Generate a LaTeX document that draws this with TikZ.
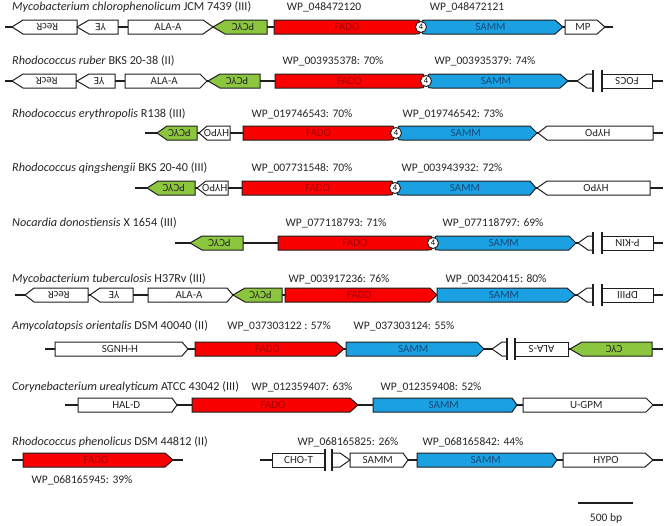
\documentclass[tikz,border=0pt]{standalone}
\usepackage{fontspec}
\setmainfont{Carlito}
\definecolor{fadoF}{RGB}{250,0,0}
\definecolor{fadoT}{RGB}{165,0,0}
\definecolor{sammF}{RGB}{27,161,226}
\definecolor{sammT}{RGB}{22,72,122}
\definecolor{pcycF}{RGB}{140,198,63}
\definecolor{edge}{RGB}{30,30,30}
\newcounter{gn}
\tikzset{
  gene/.style={draw=edge,line width=1pt,fill=white,line join=miter},
  fado/.style={fill=fadoF},
  samm/.style={fill=sammF},
  pcyc/.style={fill=pcycF},
  glab/.style={font=\fontsize{11}{12}\selectfont,inner sep=0pt,text=black!85},
  fadot/.style={text=fadoT},
  sammt/.style={text=sammT},
  bb/.style={draw=edge,line width=1.2pt},
  brk/.style={draw=edge,line width=1.2pt},
  circ/.style={circle,draw=edge,line width=0.9pt,fill=white,inner sep=0pt,minimum size=11pt,font=\fontsize{8.5}{9}\selectfont},
  wp/.style={anchor=base,inner sep=0pt,font=\fontsize{11.5}{13}\selectfont,text=black!85},
  ttl/.style={anchor=base west,inner sep=0pt,font=\fontsize{12.2}{14}\selectfont,text=black!85}
}
% forward gene: x1, body end, tip, y, fill, label, text style
\newcommand\gF[7]{\stepcounter{gn}%
  \filldraw[gene,#5] (#1,#4-7) -- (#2,#4-7) -- (#3,#4) -- (#2,#4+7) -- (#1,#4+7) -- cycle;
  \node[glab,#7] (g\arabic{gn}) at ({(2*#1+#2+#3)/4},#4) {#6};}
% reverse gene: tip, body start, x2, y, fill, label, text style
\newcommand\gR[7]{\stepcounter{gn}%
  \filldraw[gene,#5] (#1,#4) -- (#2,#4-7) -- (#3,#4-7) -- (#3,#4+7) -- (#2,#4+7) -- cycle;
  \node[glab,rotate=180,#7] (g\arabic{gn}) at ({(2*#3+#2+#1)/4},#4) {#6};}
% FADO with rounded right end: x1, x2, y
\newcommand\gFado[3]{\stepcounter{gn}%
  \filldraw[gene,fado] (#1,#3-7) -- (#2-4,#3-7) .. controls (#2,#3-7) .. (#2,#3-3) -- (#2,#3+3) .. controls (#2,#3+7) .. (#2-4,#3+7) -- (#1,#3+7) -- cycle;
  \node[glab,fadot] (g\arabic{gn}) at ({(#1+#2)/2},#3) {FADO};}
% SAMM with rounded left end: x1, body end, tip, y
\newcommand\gSamm[4]{\stepcounter{gn}%
  \filldraw[gene,samm] (#1+4,#4-7) -- (#2,#4-7) -- (#3,#4) -- (#2,#4+7) -- (#1+4,#4+7) .. controls (#1,#4+7) .. (#1,#4+3) -- (#1,#4-3) .. controls (#1,#4-7) .. (#1+4,#4-7) -- cycle;
  \node[glab,sammt] (g\arabic{gn}) at ({(2*#1+#2+#3)/4},#4) {SAMM};}
% broken reverse gene: tip, break1, break2, x2, y, label
\newcommand\gBR[6]{\stepcounter{gn}%
  \fill[white] (#2,#5-7) rectangle (#3,#5+7);
  \filldraw[gene] (#1,#5) -- (#1+10,#5-7) -- (#2,#5-7) -- (#2,#5+7) -- (#1+10,#5+7) -- cycle;
  \filldraw[gene] (#3,#5-7) -- (#4,#5-7) -- (#4,#5+7) -- (#3,#5+7) -- cycle;
  \draw[brk] (#2,#5-11) -- (#2,#5+11);
  \draw[brk] (#3,#5-11) -- (#3,#5+11);
  \node[glab,rotate=180] (g\arabic{gn}) at ({(#3+#4)/2},#5) {#6};}
% broken forward gene: x1, break1, break2, body end, tip, y, label
\newcommand\gBF[7]{\stepcounter{gn}%
  \fill[white] (#2,#6-7) rectangle (#3,#6+7);
  \filldraw[gene] (#1,#6-7) -- (#2,#6-7) -- (#2,#6+7) -- (#1,#6+7) -- cycle;
  \filldraw[gene] (#3,#6-7) -- (#4,#6-7) -- (#5,#6) -- (#4,#6+7) -- (#3,#6+7) -- cycle;
  \draw[brk] (#2,#6-11) -- (#2,#6+11);
  \draw[brk] (#3,#6-11) -- (#3,#6+11);
  \node[glab] (g\arabic{gn}) at ({(#1+#2)/2},#6) {#7};}
\begin{document}
\begin{tikzpicture}[x=1pt,y=-1pt]
\useasboundingbox (0,0) rectangle (666,525);
\fill[white] (0,0) rectangle (666,525);

% ---------- Row 1 ----------
\node[ttl] (t1) at (12,10) {\textit{Mycobacterium chlorophenolicum} JCM 7439 (III)};
\node[wp] (w1a) at (324,10) {WP\_048472120};
\node[wp] (w1b) at (467,10) {WP\_048472121};
\coordinate (a1) at (5,27); \coordinate (b1) at (613,27);
\draw[bb] (a1) -- (b1);
\gR{12}{23}{77}{27}{}{RecR}{}
\gR{77}{89}{118}{27}{}{YE}{}
\gF{128}{203}{213}{27}{}{ALA-A}{}
\gR{213}{225}{267}{27}{pcyc}{PCYC}{}
\gFado{274}{420}{27}
\gSamm{422}{555}{563}{27}
\gF{565}{597}{605}{27}{}{MP}{}
\node[circ] (c1) at (421,27) {4};

% ---------- Row 2 ----------
\node[ttl] (t2) at (12,64) {\textit{Rhodococcus ruber} BKS 20-38 (II)};
\node[wp] (w2a) at (333,64) {WP\_003935378: 70\%};
\node[wp] (w2b) at (485,64) {WP\_003935379: 74\%};
\coordinate (a2) at (5,81); \coordinate (b2) at (663,81);
\draw[bb] (a2) -- (b2);
\gR{12}{23}{76}{81}{}{RecR}{}
\gR{77}{89}{115}{81}{}{YE}{}
\gF{125}{200}{207}{81}{}{ALA-A}{}
\gR{208}{220}{260}{81}{pcyc}{PCYC}{}
\gFado{275}{424}{81}
\gSamm{428}{560}{568}{81}
\gBR{577}{593}{602}{652}{81}{FOCS}
\node[circ] (c2) at (426,81) {4};

% ---------- Row 3 ----------
\node[ttl] (t3) at (12,117) {\textit{Rhodococcus erythropolis} R138 (III)};
\node[wp] (w3a) at (302,117) {WP\_019746543: 70\%};
\node[wp] (w3b) at (453,117) {WP\_019746542: 73\%};
\coordinate (a3) at (145,133); \coordinate (b3) at (663,133);
\draw[bb] (a3) -- (b3);
\gR{157}{167}{197}{133}{pcyc}{PCYC}{}
\gR{199}{207}{230}{133}{}{HYPO}{}
\gFado{243}{394}{133}
\gSamm{398}{530}{537}{133}
\gR{538}{547}{653}{133}{}{HYPO}{}
\node[circ] (c3) at (396,133) {4};

% ---------- Row 4 ----------
\node[ttl] (t4) at (12,171) {\textit{Rhodococcus qingshengii} BKS 20-40 (III)};
\node[wp] (w4a) at (302,171) {WP\_007731548: 70\%};
\node[wp] (w4b) at (452,171) {WP\_003943932: 72\%};
\coordinate (a4) at (135,188); \coordinate (b4) at (663,188);
\draw[bb] (a4) -- (b4);
\gR{147}{158}{195}{188}{pcyc}{PCYC}{}
\gR{197}{206}{228}{188}{}{HYPO}{}
\gFado{242}{393}{188}
\gSamm{397}{530}{536}{188}
\gR{537}{547}{650}{188}{}{HYPO}{}
\node[circ] (c4) at (395,188) {4};

% ---------- Row 5 ----------
\node[ttl] (t5) at (12,226) {\textit{Nocardia donostiensis} X 1654 (III)};
\node[wp] (w5a) at (336,226) {WP\_077118793: 71\%};
\node[wp] (w5b) at (493,226) {WP\_077118797: 69\%};
\coordinate (a5) at (175,243); \coordinate (b5) at (663,243);
\draw[bb] (a5) -- (b5);
\gR{190}{202}{243}{243}{pcyc}{PCYC}{}
\gFado{278}{432}{243}
\gSamm{435}{569}{576}{243}
\gBR{578}{593}{602}{653}{243}{P-KIN}
\node[circ] (c5) at (433,243) {4};

% ---------- Row 6 ----------
\node[ttl] (t6) at (12,282) {\textit{Mycobacterium tuberculosis} H37Rv (III)};
\node[wp] (w6a) at (339,282) {WP\_003917236: 76\%};
\node[wp] (w6b) at (496,282) {WP\_003420415: 80\%};
\coordinate (a6) at (15,295); \coordinate (b6) at (663,295);
\draw[bb] (a6) -- (b6);
\gR{25}{34}{88}{295}{}{RecR}{}
\gR{90}{100}{133}{295}{}{YE}{}
\gF{148}{227}{233}{295}{}{ALA-A}{}
\gR{233}{245}{282}{295}{pcyc}{PCYC}{}
\gF{285}{430}{437}{295}{fado}{FADO}{fadot}
\gF{437}{567}{575}{295}{samm}{SAMM}{sammt}
\gBR{577}{593}{602}{653}{295}{DPIII}

% ---------- Row 7 ----------
\node[ttl] (t7) at (12,329) {\textit{Amycolatopsis orientalis} DSM 40040 (II)};
\node[wp] (w7a) at (279,329) {WP\_037303122 : 57\%};
\node[wp] (w7b) at (404,329) {WP\_037303124: 55\%};
\coordinate (a7) at (45,349); \coordinate (b7) at (663,349);
\draw[bb] (a7) -- (b7);
\gF{55}{182}{188}{349}{}{SGNH-H}{}
\gF{195}{336}{344}{349}{fado}{FADO}{fadot}
\gF{346}{477}{484}{349}{samm}{SAMM}{sammt}
\gBR{492}{507}{515}{568}{349}{ALA-S}
\gR{570}{582}{652}{349}{pcyc}{CYC}{}

% ---------- Row 8 ----------
\node[ttl] (t8) at (12,390) {\textit{Corynebacterium urealyticum} ATCC 43042 (III)};
\node[wp] (w8a) at (302,390) {WP\_012359407: 63\%};
\node[wp] (w8b) at (431,390) {WP\_012359408: 52\%};
\coordinate (a8) at (65,405); \coordinate (b8) at (663,405);
\draw[bb] (a8) -- (b8);
\gF{78}{172}{177}{405}{}{HAL-D}{}
\gF{192}{350}{358}{405}{fado}{FADO}{fadot}
\gF{373}{512}{517}{405}{samm}{SAMM}{sammt}
\gF{523}{646}{653}{405}{}{U-GPM}{}

% ---------- Row 9 ----------
\node[ttl] (t9) at (12,445) {\textit{Rhodococcus phenolicus} DSM 44812 (II)};
\node[wp] (w9a) at (348,445) {WP\_068165825: 26\%};
\node[wp] (w9b) at (473,445) {WP\_068165842: 44\%};
\node[wp] (w9c) at (82,483) {WP\_068165945: 39\%};
\coordinate (a9) at (12,460); \coordinate (b9) at (183,460);
\coordinate (c9) at (260,460); \coordinate (d9) at (663,460);
\draw[bb] (a9) -- (b9);
\draw[bb] (c9) -- (d9);
\gF{23}{165}{173}{460}{fado}{FADO}{fadot}
\gBF{272}{325}{332}{340}{350}{460}{CHO-T}
\gF{350}{403}{408}{460}{}{SAMM}{}
\gF{417}{552}{557}{460}{samm}{SAMM}{sammt}
\gF{563}{645}{653}{460}{}{HYPO}{}

% ---------- scale bar ----------
\coordinate (s1) at (578,503); \coordinate (s2) at (633,503);
\draw[bb] (s1) -- (s2);
\node[wp] (sl) at (606,521) {500 bp};
\end{tikzpicture}
\end{document}
